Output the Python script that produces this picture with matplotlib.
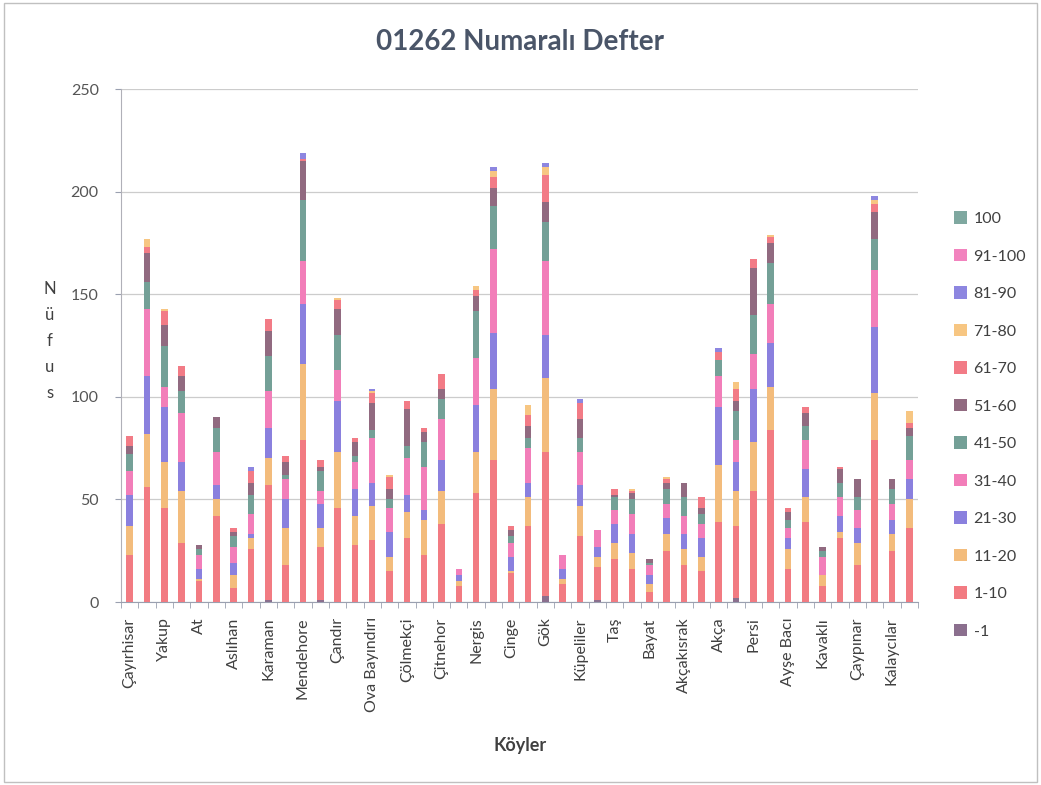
#!/usr/bin/env python3

import numpy as np
import matplotlib
matplotlib.use('Agg')
import matplotlib.pyplot as plt
from matplotlib.patches import Patch, Rectangle

plt.rcParams['font.family'] = ['Lato', 'DejaVu Sans']

# köy isimleri (grafikte sadece her ikinci sütun etiketli)
koyler = ['Çayırhisar', 'Yakup', 'At', 'Aslıhan', 'Karaman', 'Mendehore',
          'Çandır', 'Ova Bayındırı', 'Çölmekçi', 'Çitnehor', 'Nergis', 'Cinge',
          'Gök', 'Küpeliler', 'Taş', 'Bayat', 'Akçakısrak', 'Akça', 'Persi',
          'Ayşe Bacı', 'Kavaklı', 'Çaypınar', 'Kalaycılar']
n_bars = 46

# yaş grupları (alttan üste)
yas_gruplari = ['-1', '1-10', '11-20', '21-30', '31-40', '41-50', '51-60',
                '61-70', '71-80', '81-90', '91-100', '100']

s_m1 = [0, 0, 0, 0, 0, 0, 0, 0, 1, 0, 0, 1, 0, 0, 0, 0, 0, 0, 0, 0, 0, 0, 0,
        0, 3, 0, 0, 1, 0, 0, 0, 0, 0, 0, 0, 2, 0, 0, 0, 0, 0, 0, 0, 0, 0, 0]
s_1_10 = [23, 56, 46, 29, 10, 42, 7, 26, 56, 18, 79, 26, 46, 28, 30, 15, 31, 23,
          38, 8, 53, 69, 14, 37, 70, 9, 32, 16, 21, 16, 5, 25, 18, 15, 39, 35,
          54, 84, 16, 39, 8, 31, 18, 79, 25, 36]
s_11_20 = [14, 26, 22, 25, 1, 8, 6, 5, 13, 18, 37, 9, 27, 14, 17, 7, 13, 17, 16,
           2, 20, 35, 1, 14, 36, 2, 15, 5, 8, 8, 4, 8, 8, 7, 28, 17, 24, 21, 10,
           12, 5, 3, 11, 23, 8, 14]
s_21_30 = [15, 28, 27, 14, 5, 7, 6, 2, 15, 14, 29, 12, 25, 13, 11, 12, 8, 5, 15,
           3, 23, 27, 7, 7, 21, 5, 10, 5, 9, 9, 4, 8, 7, 9, 28, 14, 26, 21, 5,
           14, 0, 8, 7, 32, 7, 10]
s_31_40 = [12, 33, 10, 24, 7, 16, 8, 10, 18, 10, 21, 6, 15, 13, 22, 12, 18, 21,
           20, 3, 23, 41, 7, 17, 36, 7, 16, 8, 7, 10, 5, 7, 9, 7, 15, 11, 17, 19,
           5, 14, 9, 9, 9, 28, 8, 9]
s_41_50 = [8, 13, 20, 11, 3, 12, 5, 9, 17, 2, 30, 10, 17, 3, 4, 4, 6, 12, 10, 0,
           23, 21, 3, 5, 19, 0, 7, 0, 6, 7, 1, 7, 9, 5, 8, 14, 19, 20, 4, 7, 3,
           7, 6, 15, 7, 12]
s_51_60 = [4, 14, 10, 7, 2, 5, 2, 6, 12, 6, 19, 2, 13, 7, 13, 5, 18, 5, 5, 0, 7,
           9, 3, 6, 10, 0, 9, 0, 1, 3, 2, 3, 7, 3, 0, 5, 23, 10, 4, 6, 2, 7, 9,
           13, 5, 4]
s_61_70 = [5, 3, 7, 5, 0, 0, 2, 6, 6, 3, 1, 3, 4, 2, 5, 6, 4, 2, 7, 0, 3, 5, 2,
           5, 13, 0, 8, 0, 3, 1, 0, 2, 0, 5, 4, 6, 4, 3, 2, 3, 0, 1, 0, 4, 0, 2]
s_71_80 = [0, 4, 1, 0, 0, 0, 0, 0, 0, 0, 0, 0, 1, 0, 1, 1, 0, 0, 0, 0, 2, 3, 0,
           5, 4, 0, 0, 0, 0, 1, 0, 1, 0, 0, 0, 3, 0, 1, 0, 0, 0, 0, 0, 2, 0, 6]
s_81_90 = [0, 0, 0, 0, 0, 0, 0, 2, 0, 0, 3, 0, 0, 0, 1, 0, 0, 0, 0, 0, 0, 2, 0,
           0, 2, 0, 2, 0, 0, 0, 0, 0, 0, 0, 2, 0, 0, 0, 0, 0, 0, 0, 0, 2, 0, 0]
s_91_100 = [0] * n_bars
s_100 = [0] * n_bars

seriler = [s_m1, s_1_10, s_11_20, s_21_30, s_31_40, s_41_50, s_51_60,
           s_61_70, s_71_80, s_81_90, s_91_100, s_100]
renkler = ['#8b6f8e', '#f27b82', '#f3bc7c', '#8a80de', '#f27eb9', '#74a097',
           '#916a80', '#f27b86', '#f7c682', '#8d86e0', '#f283be', '#7fa8a0']

fig = plt.figure(figsize=(10.41, 7.85), dpi=100)
ax = fig.add_axes([0.1162, 0.2331, 0.7656, 0.6535])

x = np.arange(n_bars)
alt = np.zeros(n_bars)
for seri, renk, ad in zip(seriler, renkler, yas_gruplari):
    ax.bar(x, seri, bottom=alt, width=0.38, color=renk, label=ad, zorder=3)
    alt += np.array(seri)

ax.set_xlim(-0.5, n_bars - 0.5)
ax.set_ylim(0, 250)
ax.set_yticks(range(0, 251, 50))
ax.yaxis.grid(True, color='#cccccc', linewidth=0.9, zorder=0)

# etiketler her ikinci sütunda
ax.set_xticks(np.arange(0, n_bars, 2))
ax.set_xticklabels(koyler, rotation=90, fontsize=11.5, color='#404040')
ax.set_xticks(np.arange(-0.5, n_bars, 1), minor=True)
ax.tick_params(axis='x', which='major', length=0, pad=11)
ax.tick_params(axis='x', which='minor', length=4, color='#9aa0b0')
ax.tick_params(axis='y', length=4, color='#9aa0b0', labelsize=11.5,
               labelcolor='#555555', pad=12)

for side in ['top', 'right']:
    ax.spines[side].set_visible(False)
ax.spines['left'].set_color('#b0b0b8')
ax.spines['bottom'].set_color('#9aa0b0')

fig.text(0.5, 1 - 42 / 785, '01262 Numaralı Defter', ha='center', va='center',
         fontsize=20, fontweight='bold', color='#4a5568')
fig.text(50 / 1041, 1 - 341 / 785, '\n'.join('Nüfus'), ha='center', va='center',
         fontsize=12, color='#404040', linespacing=1.75)
fig.text(520 / 1041, 1 - 745 / 785, 'Köyler', ha='center', va='center',
         fontsize=13, fontweight='bold', color='#404040')

# lejant (üstten alta ters sırada)
handles = [Patch(facecolor=r, label=a) for r, a in zip(renkler, yas_gruplari)][::-1]
fig.legend(handles=handles, loc='upper left', bbox_to_anchor=(940 / 1041, 1 - 197 / 785),
           frameon=False, fontsize=11.5, labelcolor='#404040', handlelength=0.8,
           handleheight=0.8, handletextpad=0.4, labelspacing=1.43)

# grafik alanı çerçevesi
fig.patches.append(Rectangle((0.004, 0.004), 0.992, 0.992, transform=fig.transFigure,
                             fill=False, edgecolor='#c0c0c0', linewidth=1))

plt.savefig('out.png', dpi=100)
